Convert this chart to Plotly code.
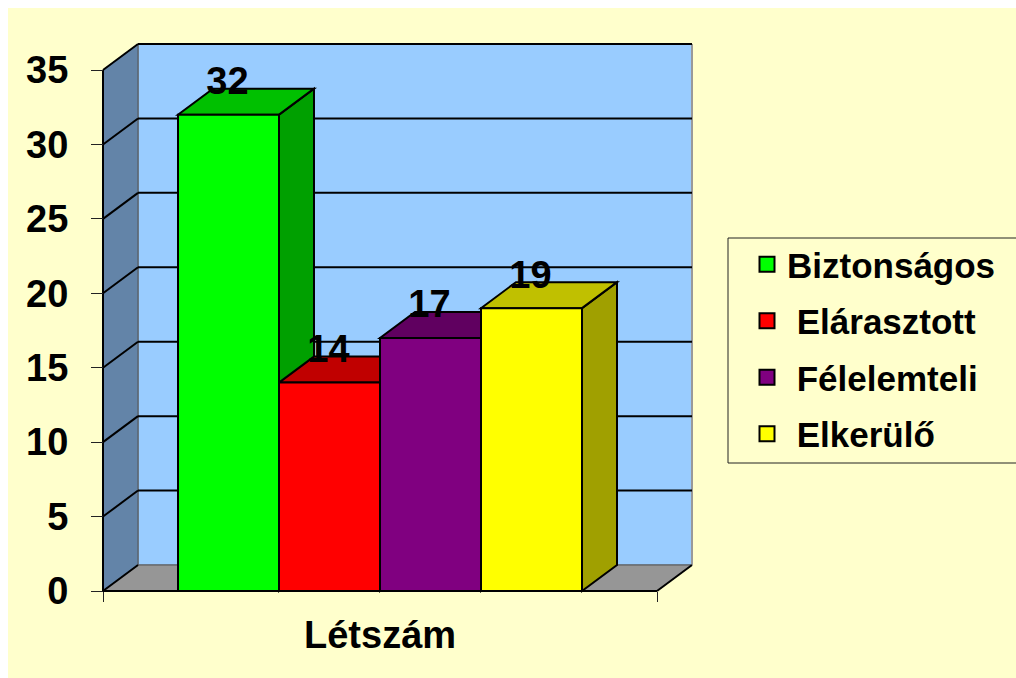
import plotly.graph_objects as go

# ---- data ----
categories = ["Biztonságos", "Elárasztott", "Félelemteli", "Elkerülő"]
legend_names = ["Biztonságos", "\u00a0Elárasztott", "\u00a0Félelemteli", "\u00a0Elkerülő"]
values = [32, 14, 17, 19]
y_ticks = [0, 5, 10, 15, 20, 25, 30, 35]
group_label = "Létszám"

# ---- styles ----
front_colors = ["#00FF00", "#FF0000", "#800080", "#FFFF00"]
top_colors = ["#00C000", "#C00000", "#600060", "#C0C000"]
side_colors = ["#00A000", "#A00000", "#500050", "#A0A000"]
CREAM = "#FFFFCC"
WALL = "#99CCFF"
SIDE_WALL = "#6384A8"
FLOOR = "#969696"
FONT = "Liberation Sans"

# scale (pixels per unit) and pseudo-3D depth in pixels
PX_X, PX_Y = 554.0, 521.0 / 35
DX, DY = 35 / PX_X, 26 / PX_Y
PAD = 5
BAR_W = 101 / PX_X
BAR_X0 = 75 / PX_X
YMAX = 35

W, H = 1030, 670
OX, OY = 8, 8  # page offset of the figure
plot_w, plot_h = 599, 557
ml, mt = 90, 31


def path(*pts):
    return "M" + " L".join(f"{x:.5f},{y:.5f}" for x, y in pts) + " Z"


def poly(pts, fill, line="black", width=2):
    return dict(type="path", path=path(*pts), xref="x", yref="y", layer="below",
                fillcolor=fill, line=dict(color=line, width=width))


def seg(x0, y0, x1, y1, color="black", width=2):
    return dict(type="line", x0=x0, y0=y0, x1=x1, y1=y1, xref="x", yref="y",
                layer="below", line=dict(color=color, width=width))


shapes = []
# legend frame
shapes.append(dict(type="rect", xref="paper", yref="paper",
                   x0=(728 - OX - ml) / plot_w, x1=(1030 - OX - ml) / plot_w,
                   y0=1 - (463 - OY - mt) / plot_h, y1=1 - (238 - OY - mt) / plot_h,
                   line=dict(color="#222222", width=1), layer="below"))
# walls and floor
shapes.append(poly([(DX, DY), (1 + DX, DY), (1 + DX, YMAX + DY), (DX, YMAX + DY)], WALL, "#666666", 1))
shapes.append(poly([(0, 0), (DX, DY), (DX, YMAX + DY), (0, YMAX)], SIDE_WALL, "#555555", 1))
shapes.append(poly([(0, 0), (1, 0), (1 + DX, DY), (DX, DY)], FLOOR, "#555555", 1))
shapes.append(seg(1 + DX, DY, 1 + DX, YMAX + DY, "#999999", 2))
# grid lines on left and back walls
for t in y_ticks[1:]:
    shapes.append(seg(0, t, DX, t + DY))
    shapes.append(seg(DX, t + DY, 1 + DX, t + DY))
# axis edges
shapes.append(seg(0, 0, 0, YMAX))
shapes.append(seg(0, 0, 1, 0))
shapes.append(seg(0, 0, DX, DY))
shapes.append(seg(1, 0, 1 + DX, DY))

# bar side and top faces, from the values
for i, v in enumerate(values):
    x0 = BAR_X0 + i * BAR_W
    x1 = x0 + BAR_W
    shapes.append(poly([(x1, 0), (x1 + DX, DY), (x1 + DX, v + DY), (x1, v)], side_colors[i]))
    shapes.append(poly([(x0, v), (x1, v), (x1 + DX, v + DY), (x0 + DX, v + DY)], top_colors[i]))

fig = go.Figure()
centers = [BAR_X0 + (i + 0.5) * BAR_W for i in range(len(values))]

for i, c in enumerate(categories):
    fig.add_trace(go.Bar(x=[centers[i]], y=[values[i]], width=[BAR_W], name=c,
                         marker=dict(color=front_colors[i], line=dict(color="black", width=2)),
                         showlegend=False, hoverinfo="name+y"))

fig.add_trace(go.Scatter(x=[c - 1 / PX_X for c in centers], y=[v + 30 / PX_Y for v in values], mode="text",
                         text=[str(v) for v in values], textposition="middle center",
                         textfont=dict(family=FONT, size=38, color="black", weight="bold"),
                         showlegend=False, hoverinfo="skip"))

for i, n in enumerate(legend_names):
    fig.add_trace(go.Scatter(x=[None], y=[None], mode="markers", name=n, legendgroup=f"g{i}",
                             marker=dict(symbol="square", size=15, color=front_colors[i],
                                         line=dict(color="black", width=2))))

fig.update_layout(
    width=W, height=H, autosize=False,
    margin=dict(l=ml, t=mt, r=W - ml - plot_w, b=H - mt - plot_h, pad=0),
    paper_bgcolor=CREAM, plot_bgcolor=CREAM,
    barmode="overlay", shapes=shapes,
    font=dict(family=FONT, color="black"),
    legend=dict(x=(747 - OX - ml) / plot_w, y=1 - (235 - OY - mt) / plot_h,
                xanchor="left", yanchor="top", bgcolor="rgba(0,0,0,0)", borderwidth=0,
                itemwidth=30, tracegroupgap=8, traceorder="grouped",
                font=dict(family=FONT, size=35, color="black", weight="bold")),
    xaxis=dict(range=[-PAD / PX_X, 1 + DX + PAD / PX_X], anchor="free", position=PAD / plot_h,
               tickvals=[0, 1], ticktext=["", ""], ticks="outside", ticklen=10, tickwidth=1,
               tickcolor="#222222", showgrid=False, zeroline=False, showline=False),
    yaxis=dict(range=[-PAD / PX_Y, YMAX + DY + PAD / PX_Y], anchor="free", position=PAD / plot_w,
               tickvals=y_ticks, ticks="outside", ticklen=12, tickwidth=1, tickcolor="#222222",
               ticklabelstandoff=15, showgrid=False, zeroline=False, showline=False,
               tickfont=dict(family=FONT, size=38, color="black", weight="bold")),
    annotations=[dict(x=0.5, y=0, xref="x", yref="y", text=group_label, showarrow=False,
                      yshift=-44, font=dict(family=FONT, size=38, color="black", weight="bold"))],
)

fig.write_html("out.html", post_script=(
    "document.documentElement.style.overflow='hidden';"
    "document.body.style.overflow='hidden';"
    "document.body.style.width='1030px';"))
